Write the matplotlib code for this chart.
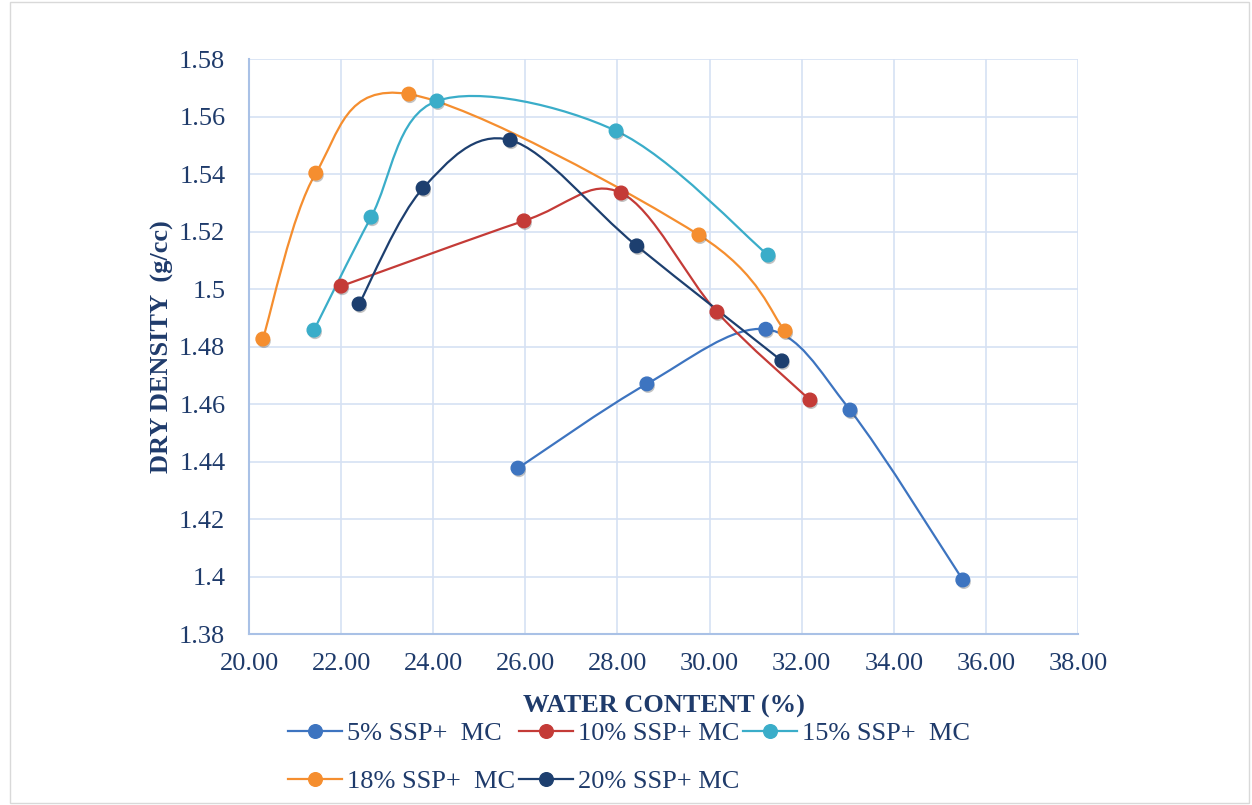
import numpy as np
import matplotlib.pyplot as plt
import matplotlib.patheffects as pe
from matplotlib.path import Path
from matplotlib.patches import PathPatch, Rectangle
from matplotlib.lines import Line2D
from matplotlib.ticker import FuncFormatter

plt.rcParams['font.family'] = ['Liberation Serif', 'DejaVu Serif']

labels = ["5% SSP+  MC", "10% SSP+ MC", "15% SSP+  MC", "18% SSP+  MC", "20% SSP+ MC"]
colors = ["#3D74C0", "#C43B37", "#3AADC9", "#F58E2F", "#1D3F6F"]

wc_5 = [25.84, 28.64, 31.22, 33.05, 35.50]
dd_5 = [1.4377, 1.467, 1.486, 1.4579, 1.3988]
wc_10 = [22.00, 25.97, 28.08, 30.16, 32.18]
dd_10 = [1.501, 1.5237, 1.5334, 1.492, 1.4614]
wc_15 = [21.41, 22.65, 24.08, 27.97, 31.27]
dd_15 = [1.4857, 1.525, 1.5654, 1.555, 1.5118]
wc_18 = [20.30, 21.45, 23.47, 29.77, 31.64]
dd_18 = [1.4826, 1.5403, 1.5678, 1.5188, 1.4854]
wc_20 = [22.39, 23.78, 25.67, 28.42, 31.57]
dd_20 = [1.4948, 1.5351, 1.5518, 1.515, 1.475]

series = [(wc_5, dd_5), (wc_10, dd_10), (wc_15, dd_15), (wc_18, dd_18), (wc_20, dd_20)]
text_col = "#1F3B6B"
fs = 19


def smooth_path(x, y):
    # catmull-rom style bezier, like excel "smoothed line"
    p = np.column_stack([x, y])
    n = len(p)
    verts = [p[0]]
    codes = [Path.MOVETO]
    for i in range(n - 1):
        p0 = p[i - 1] if i > 0 else p[i]
        p3 = p[i + 2] if i + 2 < n else p[i + 1]
        c1 = p[i] + (p[i + 1] - p0) / 6
        c2 = p[i + 1] - (p3 - p[i]) / 6
        verts += [c1, c2, p[i + 1]]
        codes += [Path.CURVE4] * 3
    return Path(verts, codes)


fig = plt.figure(figsize=(12.52, 8.05), dpi=100)
fig.patches.append(Rectangle((0.008, 0.003), 0.99, 0.994, transform=fig.transFigure,
                             fill=False, edgecolor="#D9D9D9", linewidth=1))
ax = fig.add_axes([0.1989, 0.2124, 0.6621, 0.7143])

shadow = [pe.SimplePatchShadow(offset=(0.8, -1.6), alpha=0.35, shadow_rgbFace="#555555"), pe.Normal()]
handles = []
for (x, y), c, lab in zip(series, colors, labels):
    ax.add_patch(PathPatch(smooth_path(x, y), fill=False, edgecolor=c, linewidth=1.6, zorder=3))
    ax.plot(x, y, linestyle="none", marker="o", markersize=9.8, color=c,
            markeredgecolor=c, zorder=4, path_effects=shadow)
    handles.append(Line2D([0], [0], color=c, linewidth=1.6, marker="o", markersize=9.8))

ax.set_xlim(20, 38)
ax.set_ylim(1.38, 1.58)
ax.set_xticks(np.arange(20, 38.1, 2))
ax.set_yticks(np.arange(1.38, 1.581, 0.02))
ax.xaxis.set_major_formatter(FuncFormatter(lambda v, pos: f"{v:.2f}"))
ax.yaxis.set_major_formatter(FuncFormatter(lambda v, pos: f"{v:.2f}".rstrip("0").rstrip(".")))
ax.grid(True, color="#D6E1F3", linewidth=1.2)
ax.set_axisbelow(True)
for s in ["top", "right"]:
    ax.spines[s].set_visible(False)
for s in ["left", "bottom"]:
    ax.spines[s].set_color("#A9C1E6")
    ax.spines[s].set_linewidth(1.5)
ax.tick_params(length=0, labelsize=fs, colors=text_col)
ax.tick_params(axis="x", pad=14)
ax.tick_params(axis="y", pad=17)

ax.set_xlabel("WATER CONTENT (%)", fontsize=fs, fontweight="bold", color=text_col, labelpad=14)
ax.set_ylabel("DRY DENSITY  (g/cc)", fontsize=fs, fontweight="bold", color=text_col, labelpad=4)

order = [0, 3, 1, 4, 2]
leg = fig.legend([handles[i] for i in order], [labels[i] for i in order], ncol=3,
                 loc="upper left", bbox_to_anchor=(0.23, 0.104), frameon=False,
                 fontsize=fs, handlelength=2.05, handletextpad=0.2, columnspacing=0.12,
                 labelspacing=0.95, borderaxespad=0, borderpad=0)
for t in leg.get_texts():
    t.set_color(text_col)

fig.savefig("out.png", dpi=100)
